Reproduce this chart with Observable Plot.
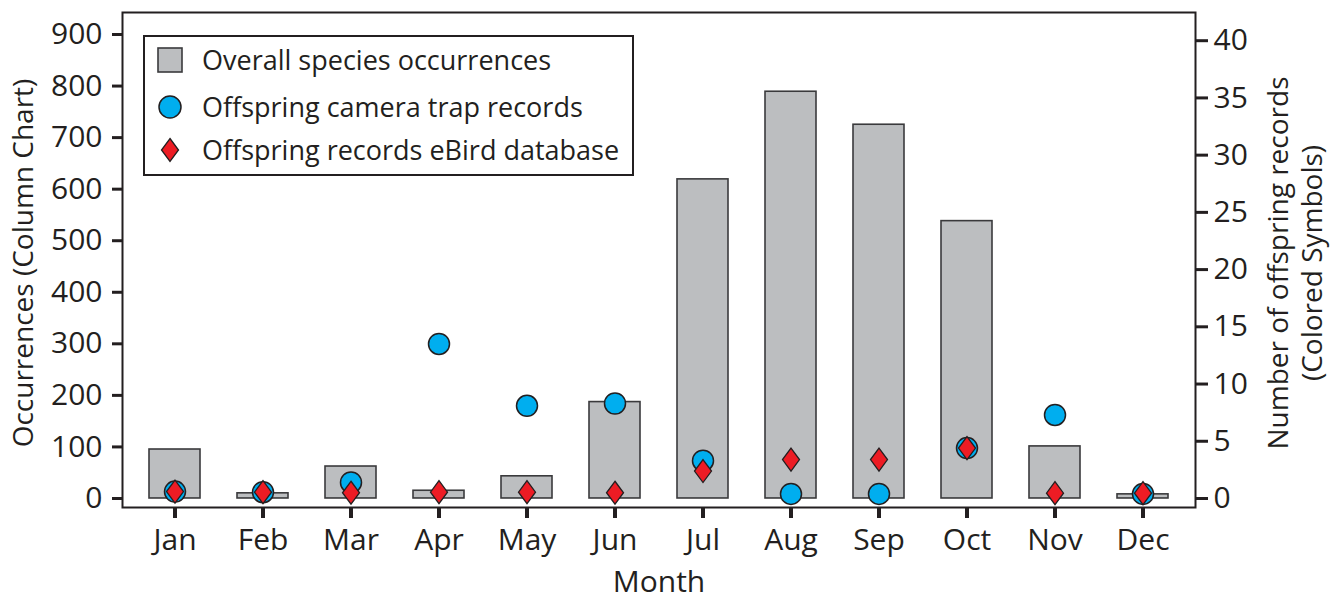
<!DOCTYPE html>
<html>
<head>
<meta charset="utf-8">
<script src="https://cdn.jsdelivr.net/npm/d3@7"></script>
<script src="https://cdn.jsdelivr.net/npm/@observablehq/plot@0.6"></script>
<style>
  body { margin: 0; background: #fff; }
  #wrap { position: relative; width: 1335px; height: 599px; font-family: "Open Sans", sans-serif; color: #231f20; }
  #legend { position: absolute; left: 143px; top: 35px; width: 487px; height: 137px; border: 2px solid #231f20; background: #fff; }
  .row { position: absolute; left: 0; height: 40px; font-size: 27px; white-space: nowrap; }
  .row svg { position: absolute; left: 10px; }
  .row span { position: absolute; left: 57px; line-height: 40px; top: 0; }
</style>
</head>
<body>
<div id="wrap"></div>
<script>
const months = ["Jan","Feb","Mar","Apr","May","Jun","Jul","Aug","Sep","Oct","Nov","Dec"];
const occurrences = [95, 10, 62, 15, 43, 187, 619, 789, 725, 538, 101, 8];
const cameraTrap = [0.6, 0.55, 1.4, 13.5, 8.1, 8.3, 3.3, 0.4, 0.4, 4.4, 7.3, 0.4];
const eBird = [0.6, 0.55, 0.5, 0.55, 0.55, 0.5, 2.4, 3.4, 3.4, 4.4, 0.46, 0.46];
const leftTicks = [0, 100, 200, 300, 400, 500, 600, 700, 800, 900];
const rightTicks = [0, 5, 10, 15, 20, 25, 30, 35, 40];
const legendLabels = ["Overall species occurrences", "Offspring camera trap records", "Offspring records eBird database"];

const k = 22.2; // right-axis units -> left-axis units
const ink = "#231f20";
const data = months.map((m, i) => ({month: m, occ: occurrences[i], cam: cameraTrap[i] * k, ebird: eBird[i] * k}));

const tallDiamond = {
  draw(ctx) {
    ctx.moveTo(0, -11.5);
    ctx.lineTo(8.5, 0);
    ctx.lineTo(0, 11.5);
    ctx.lineTo(-8.5, 0);
    ctx.closePath();
  }
};

const chart = Plot.plot({
  width: 1335,
  height: 599,
  marginLeft: 122,
  marginRight: 140,
  marginTop: 12,
  marginBottom: 92,
  style: {fontFamily: "Open Sans", color: ink, background: "transparent", overflow: "visible"},
  x: {type: "band", domain: months, paddingInner: 0.416, paddingOuter: 0.27, label: null},
  y: {domain: [-17.5, 942.7], label: null},
  marks: [
    Plot.barY(data, {x: "month", y1: 0, y2: "occ", fill: "#bcbec0", stroke: "#3a3a3c", strokeWidth: 1.6}),
    Plot.dot(data, {x: "month", y: "cam", r: 10.5, fill: "#00aeef", stroke: ink, strokeWidth: 1.5}),
    Plot.dot(data, {x: "month", y: "ebird", symbol: tallDiamond, fill: "#ed1c24", stroke: ink, strokeWidth: 1.3}),
    Plot.frame({stroke: ink, strokeWidth: 2}),
    Plot.axisX({anchor: "bottom", tickSize: 11, tickPadding: 10, strokeWidth: 4, stroke: ink, fontSize: 30, fill: ink, label: null}),
    Plot.axisY(leftTicks, {anchor: "left", tickSize: 10, tickPadding: 10, strokeWidth: 3, stroke: ink, fontSize: 30, fill: ink, label: null}),
    Plot.axisY(rightTicks.map(v => v * k), {anchor: "right", tickSize: 12, tickPadding: 6, strokeWidth: 3, stroke: ink, fontSize: 30, fill: ink, tickFormat: d => String(Math.round(d / k)), label: null}),
    Plot.text(["Occurrences (Column Chart)"], {frameAnchor: "left", textAnchor: "middle", lineAnchor: "middle", dx: -98, dy: 3, rotate: -90, fontSize: 28, fill: ink}),
    Plot.text(["Number of offspring records\n(Colored Symbols)"], {frameAnchor: "right", textAnchor: "middle", lineAnchor: "middle", dx: 99, dy: 3, rotate: -90, fontSize: 28, fill: ink, lineHeight: 1.2}),
    Plot.text(["Month"], {frameAnchor: "bottom", textAnchor: "middle", lineAnchor: "middle", dy: 75, fontSize: 30, fill: ink})
  ]
});

const wrap = document.getElementById("wrap");
wrap.appendChild(chart);

const legend = document.createElement("div");
legend.id = "legend";
const symbols = [
  '<svg width="30" height="30"><rect x="3" y="3" width="24" height="24" fill="#bcbec0" stroke="#3a3a3c" stroke-width="1.6"/></svg>',
  '<svg width="30" height="30"><circle cx="15" cy="15" r="11" fill="#00aeef" stroke="#231f20" stroke-width="1.5"/></svg>',
  '<svg width="30" height="30"><path d="M15,3.5L23.5,15L15,26.5L6.5,15Z" fill="#ed1c24" stroke="#231f20" stroke-width="1.3"/></svg>'
];
const rowTops = [3, 50, 93];
legendLabels.forEach((lab, i) => {
  const row = document.createElement("div");
  row.className = "row";
  row.style.top = rowTops[i] + "px";
  row.innerHTML = symbols[i].replace("<svg", '<svg style="top:5px"') + "<span>" + lab + "</span>";
  legend.appendChild(row);
});
wrap.appendChild(legend);
</script>
</body>
</html>
